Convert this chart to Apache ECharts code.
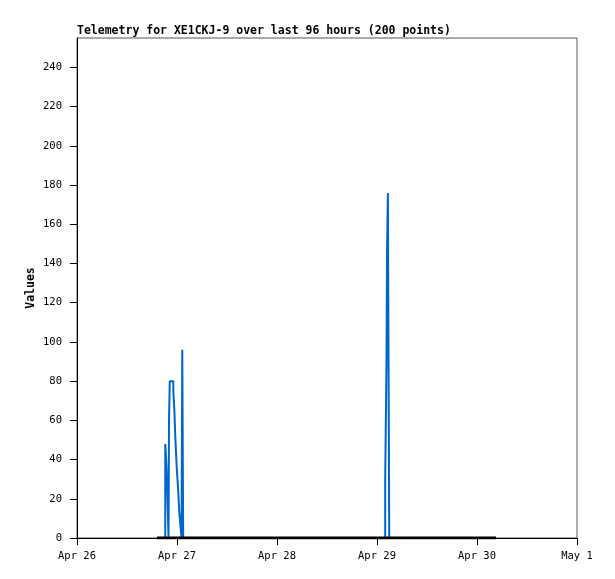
<!DOCTYPE html>
<html>
<head>
<meta charset="utf-8">
<script src="https://cdn.jsdelivr.net/npm/echarts@6/dist/echarts.min.js"></script>
<style>
  html, body { margin: 0; padding: 0; background: #fff; }
  #chart { width: 615px; height: 579px; }
</style>
</head>
<body>
<div id="chart"></div>
<script>
// telemetry samples (UTC)
const times = [
    "2024-04-26T19:12", "2024-04-26T21:11", "2024-04-26T21:29", "2024-04-26T21:43",
    "2024-04-26T21:58", "2024-04-26T22:05", "2024-04-26T22:16", "2024-04-26T23:07",
    "2024-04-26T23:21", "2024-04-26T23:35", "2024-04-26T23:56", "2024-04-27T00:19",
    "2024-04-27T00:33", "2024-04-27T00:53", "2024-04-27T01:05", "2024-04-27T01:16",
    "2024-04-27T01:29", "2024-04-29T01:58", "2024-04-29T02:16", "2024-04-29T02:25",
    "2024-04-29T02:37", "2024-04-29T02:56", "2024-04-30T04:34",
]
const values = [
    0, 48, 36, 20,
    0, 60, 80, 75,
    66, 52, 36, 23,
    13, 5, 0, 96,
    0, 30, 88, 147,
    176, 0, 0,
]
const baseTimes = ["2024-04-26T19:12", "2024-04-30T04:34"]
const baseValues = [0, 0]

const axisStart = "2024-04-26T00:00"
const axisEnd = "2024-05-01T00:00"
const yTicks = [0, 20, 40, 60, 80, 100, 120, 140, 160, 180, 200, 220, 240]
const yMax = 255
const months = ["Jan", "Feb", "Mar", "Apr", "May", "Jun", "Jul", "Aug", "Sep", "Oct", "Nov", "Dec"]

function ts(s) {
    return Date.parse(s + ":00Z")
}
function dayLabel(v) {
    let d = new Date(v)
    return months[d.getUTCMonth()] + " " + d.getUTCDate()
}

const mono = "DejaVu Sans Mono"
let myChart = echarts.init(document.getElementById("chart"))
myChart.setOption({
    animation: false,
    title: {
        text: "Telemetry for XE1CKJ-9 over last 96 hours (200 points)",
        left: 77,
        top: 25,
        padding: 0,
        textStyle: { fontFamily: mono, fontSize: 11.5, fontWeight: "bold", color: "#000" },
    },
    grid: {
        left: 77,
        top: 38,
        width: 500,
        height: 500,
        show: true,
        borderColor: "#555",
        borderWidth: 1,
        backgroundColor: "#fff",
    },
    xAxis: {
        type: "value",
        min: ts(axisStart),
        max: ts(axisEnd),
        interval: 86400000,
        axisLine: { show: true, lineStyle: { color: "#000", width: 1 } },
        axisTick: { show: true, length: 7, lineStyle: { color: "#000" } },
        axisLabel: {
            formatter: dayLabel,
            fontFamily: mono,
            fontSize: 10.5,
            color: "#000",
            margin: 13,
            showMinLabel: true,
            showMaxLabel: true,
        },
        splitLine: { show: false },
    },
    yAxis: {
        type: "value",
        min: yTicks[0],
        max: yMax,
        interval: yTicks[1] - yTicks[0],
        name: "Values",
        nameLocation: "middle",
        nameGap: 40,
        nameMoveOverlap: false,
        nameTextStyle: { fontFamily: mono, fontSize: 11.5, fontWeight: "bold", color: "#000" },
        axisLine: { show: true, lineStyle: { color: "#000", width: 1 } },
        axisTick: { show: true, length: 7, lineStyle: { color: "#000" } },
        axisLabel: {
            fontFamily: mono,
            fontSize: 10.5,
            color: "#000",
            margin: 15,
            showMaxLabel: false,
            formatter: function (v) {
                return yTicks.indexOf(v) >= 0 ? String(v) : ""
            },
        },
        splitLine: { show: false },
    },
    series: [
        {
            name: "channel",
            type: "line",
            step: "end",
            showSymbol: false,
            lineStyle: { color: "#0066CC", width: 2 },
            data: times.map((t, i) => [ts(t), values[i]]),
            z: 2,
        },
        {
            name: "base",
            type: "line",
            showSymbol: false,
            lineStyle: { color: "#000", width: 3 },
            data: baseTimes.map((t, i) => [ts(t), baseValues[i]]),
            z: 3,
        },
    ],
})
window.addEventListener("resize", function () {
    myChart.resize()
})
</script>
</body>
</html>
